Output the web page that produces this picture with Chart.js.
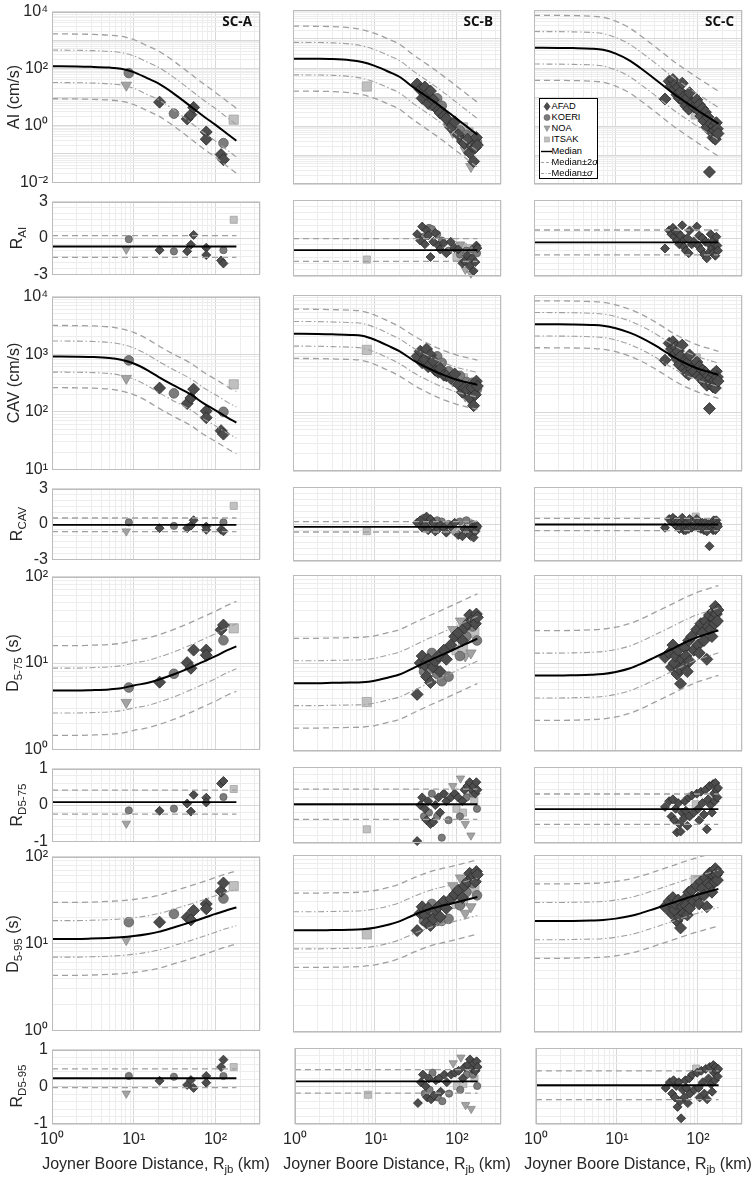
<!DOCTYPE html>
<html>
<head>
<meta charset="utf-8">
<title>AI, CAV, D5-75, D5-95 versus Joyner Boore distance</title>
<script src="https://cdn.jsdelivr.net/npm/chart.js@4.4.1/dist/chart.umd.min.js"></script>
<style>
  body { margin: 0; background: #fff; }
  #fig { position: relative; width: 754px; height: 1179px; overflow: hidden; background: #fff;
         font-family: "Liberation Sans", Arial, Helvetica, sans-serif; color: #262626; }
  #fig canvas { position: absolute; }
  .ylab { position: absolute; transform: translate(-50%, -50%) rotate(-90deg); white-space: nowrap; font-size: 16px; }
  .xlab { position: absolute; transform: translate(-50%, -50%); white-space: nowrap; font-size: 16px; }
  .ylab sub, .xlab sub { font-size: 11.5px; }
  .sc { position: absolute; font-family: "Open Sans", sans-serif; font-weight: 700; font-size: 13.5px; color: #111; }
  .legend { position: absolute; background: #fff; border: 1.5px solid #000; box-sizing: border-box; font-size: 9.3px; color: #000; }
  .legend .row { position: absolute; left: 0; height: 11px; line-height: 11px; white-space: nowrap; }
  .legend svg { position: absolute; left: 0.5px; top: 0; }
  .legend span { position: absolute; left: 11.5px; top: 0; color: #000; }
</style>
</head>
<body>
<div id="fig"></div>
<script>
// ---- data ----
// distances (km) where the model curves were read
const curveDist = [1, 2, 3, 5, 7, 10, 15, 20, 30, 50, 70, 100, 140, 180];

// model medians, site classes SC-A / SC-B / SC-C
const aiMedA = [120, 118, 115, 108, 98, 75, 44, 30, 14, 4.6, 2.2, 1.05, 0.5, 0.29];
const aiMedB = [210, 208, 203, 185, 160, 118, 73, 50, 21, 7.8, 3.9, 1.8, 0.86, 0.5];
const aiMedC = [497, 493, 485, 465, 425, 312, 177, 100, 42, 13.5, 6.9, 3.5, 1.9, 1.2];
const cavMedA = [910, 905, 895, 860, 800, 690, 520, 405, 293, 200, 143, 106, 79, 65];
const cavMedB = [2180, 2170, 2140, 2090, 2020, 1730, 1340, 1100, 764, 527, 430, 360, 320, 296];
const cavMedC = [3170, 3160, 3140, 3080, 2990, 2710, 2260, 1900, 1400, 895, 693, 560, 484, 436];
const d75MedA = [4.8, 4.8, 4.85, 4.95, 5.1, 5.5, 5.9, 6.4, 7.3, 8.9, 10.3, 12.0, 14.1, 15.6];
const d75MedB = [5.9, 5.9, 5.95, 6.0, 6.05, 6.3, 6.9, 7.4, 8.8, 11.0, 12.6, 14.7, 17.0, 18.9];
const d75MedC = [7.2, 7.2, 7.25, 7.35, 7.5, 7.9, 8.7, 9.7, 11.6, 14.6, 17.1, 19.7, 21.8, 23.4];
const d95MedA = [11.3, 11.3, 11.4, 11.6, 11.8, 12.2, 12.9, 13.6, 15.2, 17.6, 19.5, 21.9, 24.3, 26];
const d95MedB = [14.1, 14.1, 14.2, 14.3, 14.5, 15.1, 16.4, 17.8, 21.0, 25.0, 27.0, 29.2, 31.6, 33.6];
const d95MedC = [17.9, 17.9, 18.0, 18.2, 18.4, 19.1, 20.4, 21.9, 24.7, 28.9, 32.1, 35.6, 38.9, 41.4];

// standard deviations (log10 units), SC-A / SC-B / SC-C
const aiSigma = [0.57, 0.56, 0.56];
const cavSigma = [0.27, 0.21, 0.20];
const d75Sigma = [0.26, 0.255, 0.255];
const d95Sigma = [0.21, 0.21, 0.21];

// residual mean and spread
const rAiMean = [-0.7, -0.95, -0.35], rAiSd = [0.9, 0.9, 0.98];
const rCavMean = [-0.07, -0.23, -0.04], rCavSd = [0.58, 0.42, 0.49];
const rD75Mean = [0.08, 0.02, -0.11], rD75Sd = [0.33, 0.4, 0.4];
const rD95Mean = [0.23, 0.12, 0.02], rD95Sd = [0.25, 0.31, 0.38];

// SC-A records
const distA = [8.7, 8.1, 20.7, 31, 45, 50, 54, 77, 77, 125, 117, 125, 167];
const netA = ['KOERI', 'NOA', 'AFAD', 'KOERI', 'AFAD', 'AFAD', 'AFAD', 'AFAD', 'AFAD', 'KOERI', 'AFAD', 'AFAD', 'ITSAK'];
const aiObsA = [69, 26, 6.6, 2.6, 1.7, 2.4, 4.3, 0.59, 0.33, 0.24, 0.095, 0.063, 1.6];
const rAiA = [-0.1, -0.95, -1.0, -1.1, -1.1, -0.55, 0.25, -0.8, -1.4, -1.0, -1.85, -2.1, 1.5];
const cavObsA = [780, 380, 258, 209, 139, 174, 247, 103, 79, 100, 47, 41, 300];
const rCavA = [0.14, -0.62, -0.35, -0.16, -0.35, -0.14, 0.32, -0.22, -0.49, 0.14, -0.49, -0.62, 1.54];
const d75ObsA = [5.2, 3.5, 6.0, 7.5, 10.1, 8.7, 14.1, 14.1, 12.3, 18.3, 24.2, 27.5, 25.2];
const rD75A = [-0.15, -0.51, -0.16, -0.1, 0.04, -0.18, 0.28, 0.2, 0.07, 0.22, 0.59, 0.66, 0.44];
const d95ObsA = [17.6, 11.1, 17.6, 21.9, 20, 18.7, 24, 28.5, 25.1, 32.9, 40, 49.7, 45.7];
const rD95A = [0.29, -0.18, 0.16, 0.27, 0.05, 0.18, -0.03, 0.29, 0.11, 0.29, 0.53, 0.73, 0.53];

// SC-B records
const distB = [8, 33, 36, 38, 40, 41, 43, 45, 46, 48, 50, 52, 55, 58, 60, 63, 66, 70, 75, 80, 85, 90,
  95, 100, 105, 110, 112, 118, 120, 125, 128, 132, 136, 140, 145, 150, 155, 158, 162, 165, 170, 175, 178, 180];
const netB = ['ITSAK', 'AFAD', 'AFAD', 'AFAD', 'KOERI', 'AFAD', 'AFAD', 'AFAD', 'KOERI', 'AFAD', 'KOERI',
  'AFAD', 'AFAD', 'KOERI', 'AFAD', 'AFAD', 'KOERI', 'AFAD', 'AFAD', 'KOERI', 'AFAD', 'NOA', 'AFAD', 'ITSAK',
  'AFAD', 'KOERI', 'NOA', 'AFAD', 'ITSAK', 'AFAD', 'NOA', 'KOERI', 'AFAD', 'ITSAK', 'AFAD', 'NOA', 'AFAD',
  'KOERI', 'AFAD', 'ITSAK', 'AFAD', 'AFAD', 'KOERI', 'AFAD'];
const aiObsB = [23, 28, 18, 9, 14, 22, 12, 6, 11, 16, 5, 8, 4.5, 9, 3.5, 2.8, 5, 2.2, 1.8, 1.2, 0.9, 0.6,
  1.4, 0.8, 0.5, 0.7, 0.4, 0.3, 0.9, 0.25, 0.15, 0.5, 0.35, 0.6, 0.12, 0.04, 0.2, 0.45, 0.06, 0.3, 0.18, 0.4, 0.28, 0.22];
const rAiB = [-1.7, 0.3, -0.2, 0.9, 0.1, -0.5, 0.6, 0.2, 0.8, -1.5, 0.7, -0.3, 0.4, 0.3, -0.6, -0.9, -0.2,
  -0.4, -1.2, -1.0, -0.3, -0.6, -0.8, -1.5, -0.9, -1.3, -0.5, -2.0, -0.7, -1.8, -2.5, -1.0, -1.4, -0.8,
  -2.2, -2.8, -1.6, -0.9, -2.6, -1.1, -1.9, -0.6, -1.2, -0.8];
const cavObsB = [1160, 900, 1100, 700, 1000, 800, 1200, 600, 850, 950, 650, 750, 520, 900, 480, 560, 700,
  430, 420, 500, 380, 350, 450, 330, 300, 420, 270, 220, 380, 260, 190, 330, 240, 300, 180, 150, 260, 320,
  130, 230, 200, 340, 250, 280];
const rCavB = [-0.58, 0.1, 0.3, -0.3, 0.5, -0.1, 0.6, -0.5, 0.2, 0.4, -0.2, 0.1, -0.6, 0.3, -0.4, -0.1, 0.2,
  -0.3, -0.7, 0.0, -0.2, -0.5, 0.1, -0.6, -0.9, 0.2, -0.8, -1.0, 0.0, -0.4, -0.7, 0.3, -0.5, 0.1, -0.9,
  -1.0, -0.3, 0.0, -1.1, -0.5, -0.6, -0.1, -0.3, -0.2];
const d75ObsB = [3.6, 4.4, 10, 12, 8, 9.5, 7, 11, 8.5, 6, 13, 9, 10.5, 7.5, 12, 8, 6.2, 14, 11, 7, 16, 24,
  20, 14, 22, 12, 30, 18, 15, 25, 12, 20, 28, 22, 35, 13, 30, 26, 32, 23, 28, 36, 18, 33];
const rD75B = [-0.64, -0.95, 0.0, 0.2, -0.3, -0.1, -0.4, 0.1, -0.2, -0.5, 0.3, -0.45, 0.0, -0.3, 0.2, -0.2,
  -0.86, 0.3, 0.1, -0.4, 0.2, 0.5, 0.3, -0.1, 0.2, -0.3, 0.7, 0.1, -0.2, 0.4, -0.5, 0.2, 0.5, 0.3, 0.6,
  -0.8, 0.4, 0.3, 0.5, 0.1, 0.3, 0.6, -0.1, 0.4];
const d95ObsB = [12.7, 14, 22, 26, 18, 21, 17, 25, 20, 16, 28, 19, 24, 18, 26, 20, 18, 30, 25, 19, 32, 45,
  36, 28, 40, 27, 55, 33, 30, 45, 22, 38, 50, 42, 62, 26, 55, 48, 58, 44, 50, 65, 35, 60];
const rD95B = [-0.23, -0.45, 0.1, 0.3, -0.2, 0.0, -0.3, 0.2, -0.1, -0.35, 0.35, -0.25, 0.15, -0.3, 0.2,
  -0.15, -0.4, 0.3, 0.1, -0.2, 0.3, 0.6, 0.35, 0.0, 0.4, -0.1, 0.75, 0.2, 0.05, 0.5, -0.5, 0.3, 0.55, 0.35,
  0.7, -0.6, 0.45, 0.3, 0.6, 0.2, 0.4, 0.65, 0.0, 0.5];

// SC-C records
const distC = [40, 45, 48, 50, 52, 54, 56, 58, 60, 62, 65, 68, 70, 72, 75, 78, 80, 85, 90, 95, 98, 102,
  105, 110, 115, 120, 125, 130, 135, 140, 145, 150, 155, 158, 162, 165, 170, 175, 178];
const netC = ['AFAD', 'AFAD', 'AFAD', 'AFAD', 'AFAD', 'AFAD', 'AFAD', 'AFAD', 'AFAD', 'AFAD', 'AFAD', 'AFAD',
  'AFAD', 'AFAD', 'AFAD', 'AFAD', 'AFAD', 'AFAD', 'AFAD', 'ITSAK', 'AFAD', 'AFAD', 'AFAD', 'AFAD', 'AFAD',
  'AFAD', 'AFAD', 'AFAD', 'AFAD', 'AFAD', 'AFAD', 'AFAD', 'AFAD', 'AFAD', 'AFAD', 'AFAD', 'AFAD', 'AFAD', 'AFAD'];
const aiObsC = [8.5, 35, 25, 40, 18, 28, 12, 22, 9, 15, 30, 7, 11, 5, 9.5, 3.8, 14, 6, 4.5, 2.5, 8, 3.5,
  5.5, 2.2, 4, 1.5, 3, 0.9, 2, 0.026, 1.2, 0.6, 0.4, 1.0, 0.7, 0.35, 1.3, 0.8, 0.55];
const rAiC = [-0.83, 0.6, 0.3, 0.8, 0.1, 0.5, -0.2, 0.4, -0.5, 0.2, 1.0, -0.7, -0.1, -1.0, 0.0, -1.2, 0.6,
  -0.5, -0.3, -0.2, 0.9, -0.6, 0.2, -0.9, 0.0, -1.3, -0.3, -1.6, -0.4, -1.1, 0.3, -0.8, -1.2, -0.2, -0.5,
  -1.4, 0.1, -0.6, -1.0];
const cavObsC = [775, 1500, 1200, 1600, 950, 1300, 800, 1100, 650, 900, 1400, 560, 750, 480, 700, 440, 950,
  550, 500, 830, 720, 420, 600, 380, 520, 330, 480, 290, 420, 116, 380, 300, 270, 450, 350, 260, 500, 400, 340];
const rCavC = [-0.3, 0.4, 0.2, 0.5, 0.0, 0.3, -0.2, 0.2, -0.4, 0.1, 0.5, -0.5, 0.0, -0.5, 0.1, -0.4, 0.4,
  -0.3, -0.1, 0.6, 0.4, -0.3, 0.2, -0.4, 0.1, -0.5, 0.1, -0.6, 0.0, -1.8, 0.0, -0.3, -0.5, 0.3, -0.1, -0.5,
  0.3, 0.0, -0.2];
const d75ObsC = [11.6, 13, 9, 16, 10, 12, 7.5, 14, 8.5, 5.8, 11, 9, 15, 12, 8, 18, 10.5, 20, 14, 17.6, 24,
  16, 13, 28, 22, 18, 30, 11, 26, 35, 24, 20, 38, 32, 28, 44, 36, 30, 40];
const rD75C = [-0.05, 0.1, -0.3, 0.15, -0.4, -0.1, -0.72, 0.05, -0.5, -0.7, -0.2, -0.35, 0.1, -0.15, -0.55,
  0.2, -0.3, 0.25, -0.2, 0.02, 0.3, -0.1, -0.4, 0.35, 0.05, -0.25, 0.4, -0.64, 0.15, 0.5, 0.0, -0.2, 0.55,
  0.3, 0.1, 0.58, 0.4, 0.2, 0.45];
const d95ObsC = [26, 30, 22, 33, 24, 28, 18, 31, 20, 15, 26, 22, 32, 27, 21, 38, 25, 40, 30, 52, 45, 33, 28,
  50, 42, 35, 55, 26, 48, 62, 45, 38, 66, 58, 50, 70, 60, 52, 64];
const rD95C = [-0.05, 0.1, -0.2, 0.15, -0.3, 0.0, -0.55, 0.1, -0.4, -0.85, -0.1, -0.3, 0.15, -0.05, -0.45,
  0.2, -0.2, 0.3, -0.1, 0.46, 0.35, -0.05, -0.3, 0.4, 0.1, -0.2, 0.45, -0.35, 0.2, 0.5, 0.05, -0.15, 0.55,
  0.35, 0.15, 0.5, 0.4, 0.25, 0.45];

// tick labels
const xTickExp = [0, 1, 2];
const aiTickExp = [-2, 0, 2, 4];
const cavTickExp = [1, 2, 3, 4];
const durTickExp = [0, 1, 2];
const rTicks3 = [-3, 0, 3];
const rTicks1 = [-1, 0, 1];

const networks = ['AFAD', 'KOERI', 'NOA', 'ITSAK'];
const siteClasses = ['SC-A', 'SC-B', 'SC-C'];
const legendNames = ['AFAD', 'KOERI', 'NOA', 'ITSAK', 'Median', 'Median±2<i>σ</i>', 'Median±<i>σ</i>'];

// ---- layout ----
const fig = document.getElementById('fig');
const colLeft = [52, 293, 534];
const plotW = 208;
const rowTop = [10, 200, 295, 487, 575, 767, 855, 1048];
const rowH = [174, 76, 176, 74, 176, 76, 177, 76];
const xMax = 350;

const dist = [distA, distB, distC];
const nets = [netA, netB, netC];

const rows = [
  { type: 'main', min: 0.01, max: 1e4, exps: aiTickExp, med: [aiMedA, aiMedB, aiMedC], sigma: aiSigma,
    obs: [aiObsA, aiObsB, aiObsC], title: 'AI (cm/s)' },
  { type: 'res', min: -3, max: 3, minor: 0.5, labels: rTicks3, mean: rAiMean, sd: rAiSd,
    obs: [rAiA, rAiB, rAiC], title: 'R<sub>AI</sub>' },
  { type: 'main', min: 10, max: 1e4, exps: cavTickExp, med: [cavMedA, cavMedB, cavMedC], sigma: cavSigma,
    obs: [cavObsA, cavObsB, cavObsC], title: 'CAV (cm/s)' },
  { type: 'res', min: -3, max: 3, minor: 0.5, labels: rTicks3, mean: rCavMean, sd: rCavSd,
    obs: [rCavA, rCavB, rCavC], title: 'R<sub>CAV</sub>' },
  { type: 'main', min: 1, max: 100, exps: durTickExp, med: [d75MedA, d75MedB, d75MedC], sigma: d75Sigma,
    obs: [d75ObsA, d75ObsB, d75ObsC], title: 'D<sub>5-75</sub> (s)' },
  { type: 'res', min: -1, max: 1, minor: 0.2, labels: rTicks1, mean: rD75Mean, sd: rD75Sd,
    obs: [rD75A, rD75B, rD75C], title: 'R<sub>D5-75</sub>' },
  { type: 'main', min: 1, max: 100, exps: durTickExp, med: [d95MedA, d95MedB, d95MedC], sigma: d95Sigma,
    obs: [d95ObsA, d95ObsB, d95ObsC], title: 'D<sub>5-95</sub> (s)' },
  { type: 'res', min: -1, max: 1, minor: 0.2, labels: rTicks1, mean: rD95Mean, sd: rD95Sd,
    obs: [rD95A, rD95B, rD95C], title: 'R<sub>D5-95</sub>' }
];

const markers = {
  AFAD:  { style: 'rectRot',  bg: '#4d4d4d', edge: '#2b2b2b', rMain: 6,   rRes: 4.5, rot: 0 },
  KOERI: { style: 'circle',   bg: '#7c7c7c', edge: '#5c5c5c', rMain: 4.8, rRes: 3.6, rot: 0 },
  NOA:   { style: 'triangle', bg: '#a3a3a3', edge: '#878787', rMain: 6,   rRes: 4.8, rot: 180 },
  ITSAK: { style: 'rect',     bg: '#c0c0c0', edge: '#a3a3a3', rMain: 6.5, rRes: 5,   rot: 0 }
};
const medianLine = { borderColor: '#000', borderWidth: 2, borderDash: [] };
const oneSigmaLine = { borderColor: '#a0a0a0', borderWidth: 1.1, borderDash: [6, 2.5, 1.5, 2.5] };
const twoSigmaLine = { borderColor: '#a0a0a0', borderWidth: 1.3, borderDash: [6, 4] };

Chart.defaults.font.family = '"Liberation Sans", Arial, Helvetica, sans-serif';
Chart.defaults.font.size = 16;
Chart.defaults.color = '#262626';

const supMap = { '-': '⁻', '0': '⁰', '1': '¹', '2': '²', '3': '³', '4': '⁴' };
function powLabel(e) {
  return '10' + String(e).split('').map(ch => supMap[ch]).join('');
}
function isDecade(v) {
  const l = Math.log10(v);
  return Math.abs(l - Math.round(l)) < 1e-6;
}
function logGrid(min, max) {
  const out = [];
  for (let e = Math.round(Math.log10(min)); e < Math.round(Math.log10(max)); e++) {
    for (let m = 1; m <= 9; m++) out.push(+(m * Math.pow(10, e)).toPrecision(6));
  }
  out.push(max);
  return out;
}
function linGrid(min, max, step) {
  const out = [];
  for (let v = min; v <= max + 1e-9; v += step) out.push(+v.toFixed(6));
  return out;
}
const xGrid = logGrid(1, 1000).filter(v => v < xMax).concat([xMax]);

const majorGrid = '#d8d8d8';
const minorGrid = '#ededed';

const axesBox = {
  id: 'axesBox',
  afterDraw(chart) {
    const a = chart.chartArea, c = chart.ctx;
    c.save();
    c.strokeStyle = '#bcbcbc';
    c.lineWidth = 1;
    c.strokeRect(Math.round(a.left) + 0.5, Math.round(a.top) + 0.5, Math.round(a.width) - 1, Math.round(a.height) - 1);
    c.restore();
  }
};

function lineSet(points, style) {
  return Object.assign({ data: points, showLine: true, pointRadius: 0, fill: false,
    cubicInterpolationMode: 'monotone', order: 0 }, style);
}

function addPanel(col, r) {
  const spec = rows[r];
  const main = spec.type === 'main';
  const last = r === rows.length - 1;
  const L = col === 0 ? 52 : 16, R = 12, T = 12, B = last ? 34 : 12;
  const w = L + plotW + R, h = T + rowH[r] + B;
  const cv = document.createElement('canvas');
  cv.width = w; cv.height = h;
  cv.style.left = (colLeft[col] - L) + 'px';
  cv.style.top = (rowTop[r] - T) + 'px';
  cv.style.width = w + 'px'; cv.style.height = h + 'px';
  fig.appendChild(cv);

  const datasets = [];
  const x0 = curveDist[0], x1 = curveDist[curveDist.length - 1];
  if (main) {
    const med = spec.med[col], sg = spec.sigma[col];
    const band = k => curveDist.map((d, i) => ({ x: d, y: med[i] * Math.pow(10, k * sg) }));
    datasets.push(lineSet(band(0), medianLine));
    datasets.push(lineSet(band(1), oneSigmaLine));
    datasets.push(lineSet(band(-1), oneSigmaLine));
    datasets.push(lineSet(band(2), twoSigmaLine));
    datasets.push(lineSet(band(-2), twoSigmaLine));
  } else {
    const m = spec.mean[col], s = spec.sd[col];
    datasets.push(lineSet([{ x: x0, y: m }, { x: x1, y: m }], Object.assign({}, medianLine, { borderWidth: 1.8 })));
    datasets.push(lineSet([{ x: x0, y: m + s }, { x: x1, y: m + s }], twoSigmaLine));
    datasets.push(lineSet([{ x: x0, y: m - s }, { x: x1, y: m - s }], twoSigmaLine));
  }

  const obs = spec.obs[col];
  networks.forEach(n => {
    const pts = dist[col].map((d, i) => ({ x: d, y: obs[i], net: nets[col][i] })).filter(p => p.net === n);
    if (!pts.length) return;
    const mk = markers[n];
    datasets.push({
      label: n, data: pts, showLine: false, order: 1, clip: false,
      pointStyle: mk.style, pointRotation: mk.rot,
      pointRadius: main ? mk.rMain : mk.rRes,
      pointBackgroundColor: mk.bg, backgroundColor: mk.bg,
      pointBorderColor: mk.edge, borderColor: mk.edge, pointBorderWidth: 0.8
    });
  });

  const yTicks = main ? logGrid(spec.min, spec.max) : linGrid(spec.min, spec.max, spec.minor);
  const yMajor = v => main ? isDecade(v) : spec.labels.some(t => Math.abs(t - v) < 1e-6);

  new Chart(cv, {
    type: 'scatter',
    data: { datasets },
    options: {
      responsive: false,
      animation: false,
      events: [],
      layout: { padding: { top: T, right: R, left: 0, bottom: 0 } },
      plugins: { legend: { display: false }, tooltip: { enabled: false } },
      scales: {
        x: {
          type: 'logarithmic', min: 1, max: xMax,
          afterBuildTicks: s => { s.ticks = xGrid.map(v => ({ value: v })); },
          afterFit: s => { s.height = B; },
          border: { display: false },
          grid: { drawTicks: false, color: c => (c.tick && isDecade(c.tick.value)) ? majorGrid : minorGrid },
          ticks: {
            display: last, autoSkip: false, maxRotation: 0, minRotation: 0, padding: 6, color: '#262626',
            callback: v => {
              const e = Math.round(Math.log10(v));
              return (isDecade(v) && xTickExp.includes(e)) ? powLabel(e) : '';
            }
          }
        },
        y: {
          type: main ? 'logarithmic' : 'linear', min: spec.min, max: spec.max,
          afterBuildTicks: s => { s.ticks = yTicks.map(v => ({ value: v })); },
          afterFit: s => { s.width = L; },
          border: { display: false },
          grid: { drawTicks: false, color: c => (c.tick && yMajor(c.tick.value)) ? majorGrid : minorGrid },
          ticks: {
            display: col === 0, autoSkip: false, padding: 4, color: '#262626',
            callback: v => {
              if (main) {
                const e = Math.round(Math.log10(v));
                return (isDecade(v) && spec.exps.includes(e)) ? powLabel(e) : '';
              }
              const hit = spec.labels.find(t => Math.abs(t - v) < 1e-6);
              return hit === undefined ? '' : String(hit);
            }
          }
        }
      }
    },
    plugins: [axesBox]
  });
}

for (let r = 0; r < rows.length; r++) {
  for (let c = 0; c < 3; c++) addPanel(c, r);
}

// axis titles
rows.forEach((spec, r) => {
  const d = document.createElement('div');
  d.className = 'ylab';
  d.innerHTML = spec.title;
  d.style.left = (spec.type === 'main' ? 14 : 18) + 'px';
  d.style.top = (rowTop[r] + rowH[r] / 2) + 'px';
  fig.appendChild(d);
});
colLeft.forEach((x, c) => {
  const d = document.createElement('div');
  d.className = 'xlab';
  d.innerHTML = 'Joyner Boore Distance, R<sub>jb</sub> (km)';
  d.style.left = (x + plotW / 2) + 'px';
  d.style.top = '1165px';
  fig.appendChild(d);

  const s = document.createElement('div');
  s.className = 'sc';
  s.textContent = siteClasses[c];
  s.style.right = (754 - (x + plotW - 8)) + 'px';
  s.style.top = '12px';
  fig.appendChild(s);
});

// legend (SC-C, AI panel)
const legendSymbols = [
  '<polygon points="6,1.5 9,5.5 6,9.5 3,5.5" fill="#4d4d4d" stroke="#2b2b2b" stroke-width="0.6"/>',
  '<circle cx="6" cy="5.5" r="3" fill="#7c7c7c" stroke="#5c5c5c" stroke-width="0.6"/>',
  '<polygon points="3,3 9,3 6,8.5" fill="#a3a3a3" stroke="#878787" stroke-width="0.6"/>',
  '<rect x="3.5" y="3" width="5" height="5" fill="#c0c0c0" stroke="#a3a3a3" stroke-width="0.6"/>',
  '<line x1="0" y1="5.5" x2="11" y2="5.5" stroke="#000" stroke-width="1.4"/>',
  '<line x1="0" y1="5.5" x2="11" y2="5.5" stroke="#a0a0a0" stroke-width="1.2" stroke-dasharray="3,2"/>',
  '<line x1="0" y1="5.5" x2="11" y2="5.5" stroke="#a0a0a0" stroke-width="1" stroke-dasharray="3,1.5,1,1.5"/>'
];
const leg = document.createElement('div');
leg.className = 'legend';
leg.style.left = '539px';
leg.style.top = '98px';
leg.style.width = '59px';
leg.style.height = '81px';
legendNames.forEach((name, i) => {
  const row = document.createElement('div');
  row.className = 'row';
  row.style.top = (1.5 + i * 11.3) + 'px';
  row.innerHTML = '<svg width="12" height="11" viewBox="0 0 12 11">' + legendSymbols[i] + '</svg><span>' + name + '</span>';
  leg.appendChild(row);
});
fig.appendChild(leg);
</script>
</body>
</html>
